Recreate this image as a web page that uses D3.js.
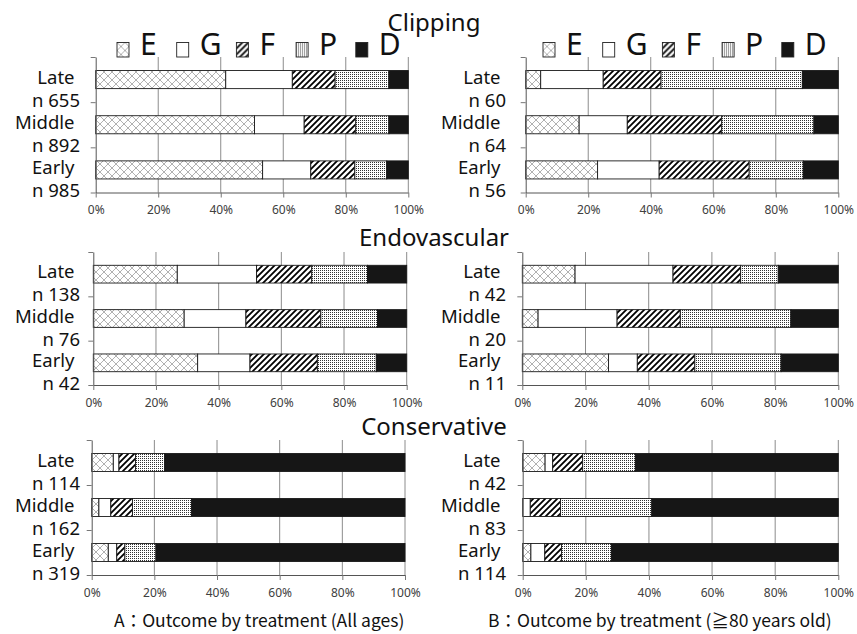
<!DOCTYPE html>
<html>
<head>
<meta charset="utf-8">
<script src="https://cdn.jsdelivr.net/npm/d3@7"></script>
<style>
  body { margin: 0; background: #fff; }
  svg { display: block; }
</style>
</head>
<body>
<div id="chart"></div>
<script>
// categories
const groups = ["Late", "Middle", "Early"];
const outcomes = ["E", "G", "F", "P", "D"];
const pctTicks = [0, 20, 40, 60, 80, 100];

// n per group (Late, Middle, Early)
const clipAllN = [655, 892, 985];
const clipOldN = [60, 64, 56];
const endoAllN = [138, 76, 42];
const endoOldN = [42, 20, 11];
const consAllN = [114, 162, 319];
const consOldN = [42, 83, 114];

// % of each outcome E, G, F, P, D (rows: Late, Middle, Early)
const clipAll = [[41.6, 21.3, 13.7, 17.2, 6.2], [50.8, 15.9, 16.5, 10.6, 6.2], [53.4, 15.4, 14.1, 10.2, 6.9]];
const clipOld = [[4.8, 20.0, 18.5, 45.2, 11.5], [17.1, 15.4, 30.2, 29.5, 7.8], [23.0, 19.7, 28.8, 17.3, 11.2]];
const endoAll = [[26.8, 25.3, 17.6, 17.8, 12.5], [29.0, 19.7, 23.9, 18.1, 9.3], [33.3, 16.7, 21.5, 18.8, 9.7]];
const endoOld = [[16.7, 31.0, 21.4, 11.9, 19.0], [5.0, 25.0, 20.0, 35.0, 15.0], [27.3, 9.1, 18.2, 27.3, 18.1]];
const consAll = [[6.9, 1.8, 5.3, 9.3, 76.7], [2.3, 3.8, 6.9, 18.9, 68.1], [5.3, 2.7, 2.6, 9.9, 79.5]];
const consOld = [[7.1, 2.4, 9.5, 16.7, 64.3], [0.0, 2.4, 9.6, 28.9, 59.1], [2.6, 4.4, 5.3, 15.8, 71.9]];

const titles = ["Clipping", "Endovascular", "Conservative"];
const captionA = "A：Outcome by treatment (All ages)";
const captionB = "B：Outcome by treatment (≧80 years old)";

const width = 857, height = 634;

const svg = d3.select("#chart").append("svg")
  .attr("width", width)
  .attr("height", height);

// fill patterns
const defs = svg.append("defs");

const patE = defs.append("pattern").attr("id", "pat-E")
  .attr("patternUnits", "userSpaceOnUse").attr("width", 8).attr("height", 8);
patE.append("rect").attr("width", 8).attr("height", 8).attr("fill", "#fff");
patE.append("path")
  .attr("d", "M0,8L8,0M-2,2L2,-2M6,10L10,6M0,0L8,8M-2,6L2,10M6,-2L10,2")
  .attr("stroke", "#8f8f8f").attr("stroke-width", 0.7);

const patF = defs.append("pattern").attr("id", "pat-F")
  .attr("patternUnits", "userSpaceOnUse").attr("width", 6).attr("height", 6);
patF.append("rect").attr("width", 6).attr("height", 6).attr("fill", "#fff");
patF.append("path")
  .attr("d", "M0,6L6,0M-1.5,1.5L1.5,-1.5M4.5,7.5L7.5,4.5")
  .attr("stroke", "#000").attr("stroke-width", 1.8);

const patP = defs.append("pattern").attr("id", "pat-P")
  .attr("patternUnits", "userSpaceOnUse").attr("width", 2).attr("height", 2);
patP.append("rect").attr("width", 2).attr("height", 2).attr("fill", "#fff");
patP.append("rect").attr("width", 1).attr("height", 1).attr("fill", "#333");

const fills = {
  E: "url(#pat-E)",
  G: "#fff",
  F: "url(#pat-F)",
  P: "url(#pat-P)",
  D: "#161616"
};

const rows = [
  { top: 57, bottom: 192.5, titleY: 30.5,
    panels: [{ x0: 95.7, x1: 408.3, vals: clipAll, n: clipAllN }, { x0: 525.7, x1: 838.3, vals: clipOld, n: clipOldN }] },
  { top: 252, bottom: 385, titleY: 245.5,
    panels: [{ x0: 93.3, x1: 406.7, vals: endoAll, n: endoAllN }, { x0: 522.3, x1: 838.3, vals: endoOld, n: endoOldN }] },
  { top: 440, bottom: 575, titleY: 435,
    panels: [{ x0: 91.7, x1: 405, vals: consAll, n: consAllN }, { x0: 522.7, x1: 838.3, vals: consOld, n: consOldN }] }
];
const labelRight = [80, 506];

function drawPanel(p, row, col) {
  const g = svg.append("g");

  const x = d3.scaleLinear().domain([0, 100]).range([p.x0, p.x1]);
  const y = d3.scaleBand().domain(groups).range([row.top, row.bottom])
    .paddingInner(0.6).paddingOuter(0.3);
  const yEdge = d3.scaleLinear().domain([0, groups.length]).range([row.top, row.bottom]);

  // vertical gridlines
  g.append("g")
    .selectAll("line")
    .data(pctTicks.slice(1))
    .enter()
    .append("line")
    .attr("x1", (d) => x(d)).attr("x2", (d) => x(d))
    .attr("y1", row.top).attr("y2", row.bottom)
    .attr("stroke", "#8c8c8c").attr("stroke-width", 1);

  // stacked bars
  const table = groups.map((grp, i) => {
    const o = { group: grp };
    outcomes.forEach((k, j) => (o[k] = p.vals[i][j]));
    return o;
  });
  const series = d3.stack().keys(outcomes)(table);

  g.append("g")
    .selectAll("g")
    .data(series)
    .enter()
    .append("g")
    .attr("fill", (s) => fills[s.key])
    .selectAll("rect")
    .data((s) => s)
    .enter()
    .append("rect")
    .attr("x", (d) => x(d[0]))
    .attr("y", (d) => y(d.data.group))
    .attr("width", (d) => x(d[1]) - x(d[0]))
    .attr("height", y.bandwidth())
    .attr("stroke", (d) => (d[1] - d[0] > 0 ? "#1a1a1a" : "none"))
    .attr("stroke-width", 0.9);

  // bottom axis
  const xAxis = g.append("g")
    .attr("transform", `translate(0,${row.bottom})`)
    .call(d3.axisBottom(x).tickValues(pctTicks).tickFormat((d) => d + "%")
      .tickSize(5).tickSizeOuter(0).tickPadding(8));
  xAxis.select(".domain").attr("stroke", "#555");
  xAxis.selectAll(".tick line").attr("stroke", "#777");
  xAxis.selectAll("text")
    .attr("font-family", "Noto Sans").attr("font-size", 12).attr("fill", "#404040");

  // left axis with ticks between categories
  const yAxis = g.append("g")
    .attr("transform", `translate(${p.x0},0)`)
    .call(d3.axisLeft(yEdge).tickValues(d3.range(groups.length + 1)).tickFormat("")
      .tickSize(5).tickSizeOuter(0));
  yAxis.select(".domain").attr("stroke", "#555");
  yAxis.selectAll(".tick line").attr("stroke", "#777");

  // category labels
  const lab = g.append("g")
    .attr("font-family", "Noto Sans").attr("font-size", 18.5).attr("fill", "#111")
    .attr("text-anchor", "end");
  groups.forEach((grp, i) => {
    const cy = y(grp) + y.bandwidth() / 2;
    lab.append("text").attr("x", labelRight[col] - 5.5).attr("y", cy + 4).text(grp);
    lab.append("text").attr("x", labelRight[col]).attr("y", cy + 27).text("n " + p.n[i]);
  });
}

rows.forEach((row, r) => {
  row.panels.forEach((p, c) => drawPanel(p, row, c));
  svg.append("text")
    .attr("x", 434).attr("y", row.titleY)
    .attr("text-anchor", "middle")
    .attr("font-family", "Noto Sans").attr("font-size", 24).attr("fill", "#111")
    .text(titles[r]);
});

// legends above the top row
[117, 543].forEach((lx) => {
  const lg = svg.append("g");
  const lxScale = d3.scalePoint().domain(outcomes).range([lx, lx + 4 * 59.7]);
  const items = lg.selectAll("g").data(outcomes).enter().append("g")
    .attr("transform", (d) => `translate(${lxScale(d)},42.5)`);
  items.append("rect")
    .attr("width", 12).attr("height", 14.5)
    .attr("fill", (d) => fills[d])
    .attr("stroke", "#222").attr("stroke-width", 0.9);
  items.append("text")
    .attr("x", 23).attr("y", 12.5)
    .attr("font-family", "Noto Sans").attr("font-size", 30).attr("fill", "#111")
    .text((d) => d);
});

// captions
svg.append("text")
  .attr("x", 114).attr("y", 627)
  .attr("font-family", "Noto Sans CJK JP").attr("font-size", 17.5).attr("fill", "#111")
  .text(captionA);
svg.append("text")
  .attr("x", 488).attr("y", 627)
  .attr("font-family", "Noto Sans CJK JP").attr("font-size", 17.5).attr("fill", "#111")
  .text(captionB);
</script>
</body>
</html>
